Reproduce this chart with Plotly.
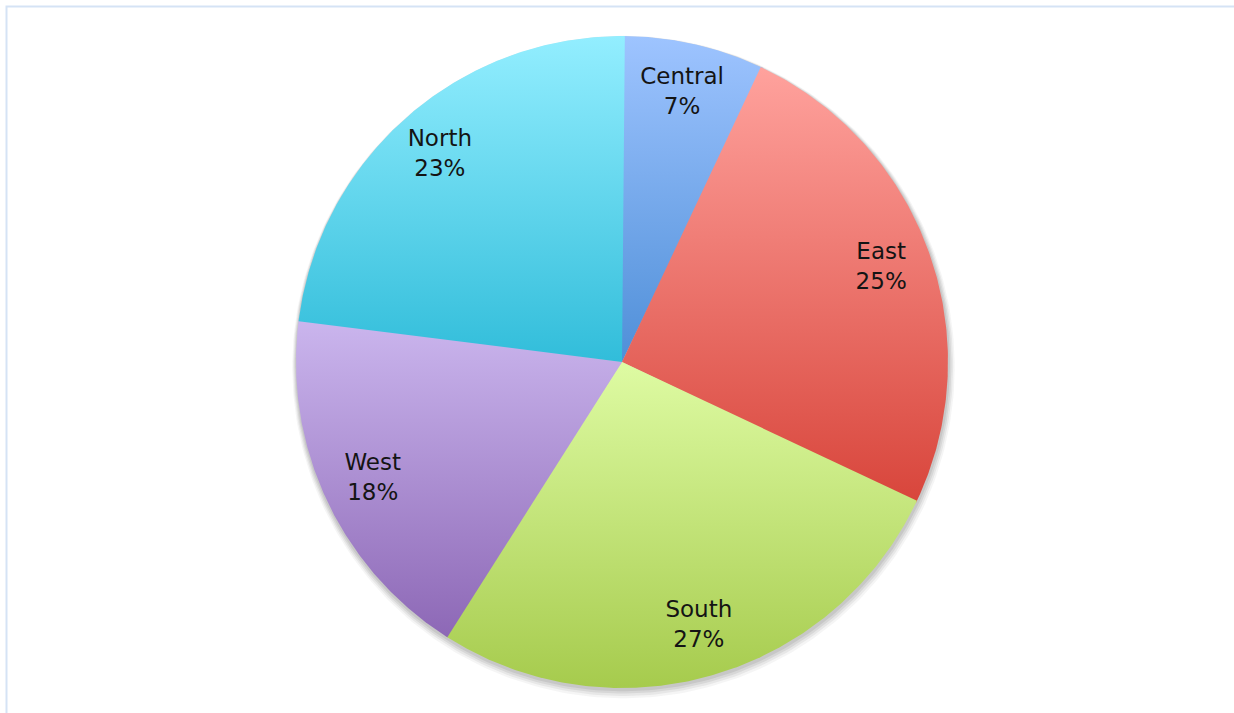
import numpy as np
import plotly.graph_objects as go

# Regional share data
regions = ["Central", "East", "South", "West", "North"]
shares = [7, 25, 27, 18, 23]

# Gradient colours per slice: (bottom, top)
top_colors = ["#9EC4FF", "#FFA29D", "#DEFBA3", "#CBB6EE", "#93EEFF"]
bottom_colors = ["#4F8FD8", "#D8453B", "#A6CB4D", "#8D68B6", "#31BDDA"]

W, H = 1234, 713
CX, CY, R = 622, 362, 326  # centre and radius in pixels

total = sum(shares)
fractions = np.array(shares, dtype=float) / total
ends = np.cumsum(fractions)
starts = ends - fractions

fig = go.Figure()


def ring(cx, cy, r, n=360):
    t = np.linspace(0, 2 * np.pi, n)
    return cx + r * np.sin(t), cy + r * np.cos(t)


# soft drop shadow under the pie
for i, (dx, dy, op) in enumerate([(1.5, -5, 0.05), (1.2, -4, 0.07), (0.9, -3, 0.09), (0.6, -2, 0.10)]):
    xs, ys = ring(dx / R, dy / R, 1.0 + 0.004 * (4 - i))
    fig.add_trace(go.Scatter(
        x=xs, y=ys, mode="lines", fill="toself",
        fillcolor=f"rgba(60,60,60,{op})", line=dict(width=0),
        hoverinfo="skip", showlegend=False,
    ))

# slices, clockwise from 12 o'clock
overlap = 0.5 / 360
for name, s, e, c_top, c_bot in zip(regions, starts, ends, top_colors, bottom_colors):
    a = np.linspace(s, e + overlap, 200) * 2 * np.pi
    xs = np.concatenate([[0], np.sin(a), [0]])
    ys = np.concatenate([[0], np.cos(a), [0]])
    fig.add_trace(go.Scatter(
        x=xs, y=ys, mode="lines", fill="toself",
        line=dict(width=0),
        fillgradient=dict(type="vertical", colorscale=[[0, c_bot], [1, c_top]]),
        hoverinfo="skip", showlegend=False, name=name,
    ))

# inside labels
mids = (starts + ends) / 2 * 2 * np.pi
lab_r = 0.845
fig.add_trace(go.Scatter(
    x=lab_r * np.sin(mids), y=lab_r * np.cos(mids),
    mode="text",
    text=[f"{n}<br>{round(f * 100)}%" for n, f in zip(regions, fractions)],
    textposition="middle center",
    textfont=dict(family="DejaVu Sans, sans-serif", size=23, color="#141414"),
    hoverinfo="skip", showlegend=False,
))

fig.update_layout(
    width=W, height=H,
    margin=dict(l=0, r=0, t=0, b=0),
    paper_bgcolor="white", plot_bgcolor="white",
    xaxis=dict(range=[-CX / R, (W - CX) / R], visible=False, fixedrange=True),
    yaxis=dict(range=[-(H - CY) / R, CY / R], visible=False, fixedrange=True),
    shapes=[dict(
        type="rect", xref="paper", yref="paper",
        x0=6.5 / W, x1=1.02, y0=-0.02, y1=1 - 6.5 / H,
        line=dict(color="#D5E3F5", width=2), fillcolor="rgba(0,0,0,0)",
        layer="below",
    )],
)

fig.write_html("out.html")
